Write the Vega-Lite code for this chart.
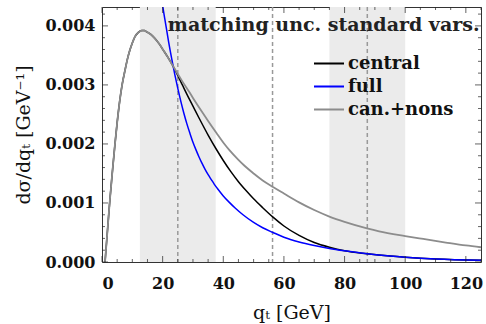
{
  "$schema": "https://vega.github.io/schema/vega-lite/v6.json",
  "width": 379,
  "height": 255,
  "autosize": {"type": "none"},
  "padding": {"left": 102, "top": 7, "right": 5, "bottom": 62},
  "background": "white",
  "config": {
    "view": {"stroke": "#333", "strokeWidth": 1},
    "font": "DejaVu Serif"
  },
  "title": {
    "text": "matching unc. standard vars.",
    "anchor": "end",
    "offset": -29,
    "dx": -3,
    "fontSize": 19,
    "fontWeight": "bold",
    "font": "DejaVu Serif",
    "color": "#222"
  },
  "datasets": {
    "xticks": [
      {"t": 0}, {"t": 5}, {"t": 10}, {"t": 15}, {"t": 20}, {"t": 25}, {"t": 30}, {"t": 35}, {"t": 40}, {"t": 45},
      {"t": 50}, {"t": 55}, {"t": 60}, {"t": 65}, {"t": 70}, {"t": 75}, {"t": 80}, {"t": 85}, {"t": 90}, {"t": 95},
      {"t": 100}, {"t": 105}, {"t": 110}, {"t": 115}, {"t": 120}, {"t": 125}
    ],
    "yticks": [
      {"t": 0}, {"t": 0.0002}, {"t": 0.0004}, {"t": 0.0006}, {"t": 0.0008}, {"t": 0.001}, {"t": 0.0012}, {"t": 0.0014},
      {"t": 0.0016}, {"t": 0.0018}, {"t": 0.002}, {"t": 0.0022}, {"t": 0.0024}, {"t": 0.0026}, {"t": 0.0028}, {"t": 0.003},
      {"t": 0.0032}, {"t": 0.0034}, {"t": 0.0036}, {"t": 0.0038}, {"t": 0.004}, {"t": 0.0042}
    ],
    "curves": [
      {"s": "central", "q": 1, "v": 0},
      {"s": "central", "q": 2, "v": 0.00066},
      {"s": "central", "q": 2.6, "v": 0.00105},
      {"s": "central", "q": 3.5, "v": 0.00157},
      {"s": "central", "q": 4.3, "v": 0.00201},
      {"s": "central", "q": 5, "v": 0.00236},
      {"s": "central", "q": 5.9, "v": 0.00275},
      {"s": "central", "q": 6.7, "v": 0.00302},
      {"s": "central", "q": 7.6, "v": 0.00325},
      {"s": "central", "q": 8.4, "v": 0.00344},
      {"s": "central", "q": 9.2, "v": 0.00359},
      {"s": "central", "q": 10, "v": 0.00371},
      {"s": "central", "q": 10.9, "v": 0.00382},
      {"s": "central", "q": 12, "v": 0.00389},
      {"s": "central", "q": 13.1, "v": 0.00392},
      {"s": "central", "q": 14, "v": 0.00392},
      {"s": "central", "q": 14.7, "v": 0.0039},
      {"s": "central", "q": 16, "v": 0.00386},
      {"s": "central", "q": 17.4, "v": 0.00379},
      {"s": "central", "q": 18.8, "v": 0.0037},
      {"s": "central", "q": 20.2, "v": 0.00359},
      {"s": "central", "q": 21.7, "v": 0.00347},
      {"s": "central", "q": 23.2, "v": 0.00334},
      {"s": "central", "q": 24.7, "v": 0.00319},
      {"s": "central", "q": 26.5, "v": 0.003},
      {"s": "central", "q": 28.9, "v": 0.00275},
      {"s": "central", "q": 30, "v": 0.00264},
      {"s": "central", "q": 32, "v": 0.00244},
      {"s": "central", "q": 35, "v": 0.00215},
      {"s": "central", "q": 37.7, "v": 0.00191},
      {"s": "central", "q": 40, "v": 0.00172},
      {"s": "central", "q": 42.5, "v": 0.00153},
      {"s": "central", "q": 45, "v": 0.00136},
      {"s": "central", "q": 47.5, "v": 0.00121},
      {"s": "central", "q": 50, "v": 0.00107},
      {"s": "central", "q": 53, "v": 0.00092},
      {"s": "central", "q": 56.4, "v": 0.00076},
      {"s": "central", "q": 60, "v": 0.00061},
      {"s": "central", "q": 65, "v": 0.00045},
      {"s": "central", "q": 70, "v": 0.00033},
      {"s": "central", "q": 75, "v": 0.00025},
      {"s": "central", "q": 80, "v": 0.00019},
      {"s": "central", "q": 87.4, "v": 0.00014},
      {"s": "central", "q": 95, "v": 0.0001},
      {"s": "central", "q": 100, "v": 0.00008},
      {"s": "central", "q": 110, "v": 0.00005},
      {"s": "central", "q": 125, "v": 0.00003},

      {"s": "full", "q": 18, "v": 0.0053},
      {"s": "full", "q": 19, "v": 0.0048},
      {"s": "full", "q": 20, "v": 0.00435},
      {"s": "full", "q": 21, "v": 0.00403},
      {"s": "full", "q": 22, "v": 0.00372},
      {"s": "full", "q": 23, "v": 0.00344},
      {"s": "full", "q": 24, "v": 0.00318},
      {"s": "full", "q": 25, "v": 0.00294},
      {"s": "full", "q": 26, "v": 0.00272},
      {"s": "full", "q": 27, "v": 0.00252},
      {"s": "full", "q": 28, "v": 0.00234},
      {"s": "full", "q": 29, "v": 0.00218},
      {"s": "full", "q": 30, "v": 0.00203},
      {"s": "full", "q": 31, "v": 0.0019},
      {"s": "full", "q": 32, "v": 0.00178},
      {"s": "full", "q": 33, "v": 0.00167},
      {"s": "full", "q": 34, "v": 0.00157},
      {"s": "full", "q": 35, "v": 0.00148},
      {"s": "full", "q": 36, "v": 0.0014},
      {"s": "full", "q": 37, "v": 0.00132},
      {"s": "full", "q": 38, "v": 0.00125},
      {"s": "full", "q": 40, "v": 0.00112},
      {"s": "full", "q": 42, "v": 0.00101},
      {"s": "full", "q": 44, "v": 0.00091},
      {"s": "full", "q": 46.5, "v": 0.0008},
      {"s": "full", "q": 50, "v": 0.00067},
      {"s": "full", "q": 53, "v": 0.00058},
      {"s": "full", "q": 56.4, "v": 0.0005},
      {"s": "full", "q": 60, "v": 0.00042},
      {"s": "full", "q": 65, "v": 0.00034},
      {"s": "full", "q": 70, "v": 0.00028},
      {"s": "full", "q": 75, "v": 0.00023},
      {"s": "full", "q": 80, "v": 0.00019},
      {"s": "full", "q": 87.4, "v": 0.00014},
      {"s": "full", "q": 95, "v": 0.0001},
      {"s": "full", "q": 100, "v": 0.00008},
      {"s": "full", "q": 110, "v": 0.00005},
      {"s": "full", "q": 125, "v": 0.00003},

      {"s": "can.+nons", "q": 1, "v": 0},
      {"s": "can.+nons", "q": 2, "v": 0.00066},
      {"s": "can.+nons", "q": 2.6, "v": 0.00105},
      {"s": "can.+nons", "q": 3.5, "v": 0.00157},
      {"s": "can.+nons", "q": 4.3, "v": 0.00201},
      {"s": "can.+nons", "q": 5, "v": 0.00236},
      {"s": "can.+nons", "q": 5.9, "v": 0.00275},
      {"s": "can.+nons", "q": 6.7, "v": 0.00302},
      {"s": "can.+nons", "q": 7.6, "v": 0.00325},
      {"s": "can.+nons", "q": 8.4, "v": 0.00344},
      {"s": "can.+nons", "q": 9.2, "v": 0.00359},
      {"s": "can.+nons", "q": 10, "v": 0.00371},
      {"s": "can.+nons", "q": 10.9, "v": 0.00382},
      {"s": "can.+nons", "q": 12, "v": 0.00389},
      {"s": "can.+nons", "q": 13.1, "v": 0.00392},
      {"s": "can.+nons", "q": 14, "v": 0.00392},
      {"s": "can.+nons", "q": 14.7, "v": 0.0039},
      {"s": "can.+nons", "q": 16, "v": 0.00386},
      {"s": "can.+nons", "q": 17.4, "v": 0.00379},
      {"s": "can.+nons", "q": 18.8, "v": 0.0037},
      {"s": "can.+nons", "q": 20.2, "v": 0.00359},
      {"s": "can.+nons", "q": 21.7, "v": 0.00347},
      {"s": "can.+nons", "q": 23.2, "v": 0.00334},
      {"s": "can.+nons", "q": 24.7, "v": 0.00321},
      {"s": "can.+nons", "q": 26.5, "v": 0.00306},
      {"s": "can.+nons", "q": 28.9, "v": 0.00287},
      {"s": "can.+nons", "q": 30, "v": 0.00278},
      {"s": "can.+nons", "q": 33.3, "v": 0.00252},
      {"s": "can.+nons", "q": 35, "v": 0.00239},
      {"s": "can.+nons", "q": 37.7, "v": 0.00219},
      {"s": "can.+nons", "q": 40.5, "v": 0.00199},
      {"s": "can.+nons", "q": 42.1, "v": 0.00189},
      {"s": "can.+nons", "q": 45, "v": 0.00173},
      {"s": "can.+nons", "q": 47, "v": 0.00163},
      {"s": "can.+nons", "q": 50, "v": 0.0015},
      {"s": "can.+nons", "q": 53, "v": 0.00138},
      {"s": "can.+nons", "q": 56.4, "v": 0.00127},
      {"s": "can.+nons", "q": 60, "v": 0.00116},
      {"s": "can.+nons", "q": 65, "v": 0.00101},
      {"s": "can.+nons", "q": 70, "v": 0.00088},
      {"s": "can.+nons", "q": 75, "v": 0.00077},
      {"s": "can.+nons", "q": 80, "v": 0.00068},
      {"s": "can.+nons", "q": 87.4, "v": 0.00057},
      {"s": "can.+nons", "q": 91.4, "v": 0.00052},
      {"s": "can.+nons", "q": 100, "v": 0.00044},
      {"s": "can.+nons", "q": 106, "v": 0.00039},
      {"s": "can.+nons", "q": 113.4, "v": 0.00033},
      {"s": "can.+nons", "q": 120, "v": 0.00028},
      {"s": "can.+nons", "q": 125, "v": 0.00025}
    ]
  },
  "layer": [
    {
      "data": {"values": [{"a": 12.5, "b": 37.5}, {"a": 75, "b": 100}]},
      "mark": {"type": "rect", "color": "#ebebeb"},
      "encoding": {
        "x": {
          "field": "a",
          "type": "quantitative",
          "scale": {"domain": [0, 125], "nice": false, "zero": false},
          "axis": {
            "orient": "bottom",
            "values": [0, 20, 40, 60, 80, 100, 120],
            "ticks": false,
            "domain": false,
            "grid": false,
            "labelPadding": 13,
            "labelFont": "DejaVu Serif",
            "labelFontWeight": "bold",
            "labelFontSize": 16,
            "labelColor": "#111",
            "title": "qₜ [GeV]",
            "titleFont": "DejaVu Serif",
            "titleFontWeight": "normal",
            "titleFontSize": 19,
            "titleColor": "#111",
            "titlePadding": 12
          }
        },
        "x2": {"field": "b"}
      }
    },
    {
      "data": {"values": [{"x": 25}, {"x": 56.25}, {"x": 87.5}]},
      "mark": {"type": "rule", "color": "#999999", "strokeDash": [4, 3], "strokeWidth": 1.5},
      "encoding": {
        "x": {"field": "x", "type": "quantitative"}
      }
    },
    {
      "data": {"name": "curves"},
      "transform": [{"filter": "datum.s !== 'can.+nons'"}],
      "mark": {"type": "line", "clip": true, "strokeWidth": 1.5, "interpolate": "monotone"},
      "encoding": {
        "x": {"field": "q", "type": "quantitative"},
        "y": {
          "field": "v",
          "type": "quantitative",
          "scale": {"domain": [0, 0.00432], "nice": false},
          "axis": {
            "orient": "left",
            "values": [0, 0.001, 0.002, 0.003, 0.004],
            "format": ".3f",
            "ticks": false,
            "domain": false,
            "grid": false,
            "labelPadding": 7,
            "labelFont": "DejaVu Serif",
            "labelFontWeight": "bold",
            "labelFontSize": 16,
            "labelColor": "#111",
            "title": "dσ/dqₜ [GeV⁻¹]",
            "titleFont": "DejaVu Serif",
            "titleFontWeight": "normal",
            "titleFontSize": 19,
            "titleColor": "#111",
            "titlePadding": 11
          }
        },
        "color": {
          "field": "s",
          "type": "nominal",
          "scale": {"domain": ["central", "full", "can.+nons"], "range": ["#000000", "#0000ff", "#8c8c8c"]},
          "legend": {
            "orient": "none",
            "legendX": 211,
            "legendY": 45,
            "title": null,
            "padding": 0,
            "symbolType": "stroke",
            "symbolSize": 900,
            "symbolStrokeWidth": 2,
            "clipHeight": 23,
            "rowPadding": 0,
            "labelOffset": 3,
            "labelFont": "DejaVu Serif",
            "labelFontWeight": "bold",
            "labelFontSize": 18,
            "labelColor": "#111"
          }
        }
      }
    },
    {
      "data": {"name": "curves"},
      "transform": [{"filter": "datum.s === 'can.+nons'"}],
      "mark": {"type": "line", "clip": true, "strokeWidth": 1.8, "interpolate": "monotone"},
      "encoding": {
        "x": {"field": "q", "type": "quantitative"},
        "y": {"field": "v", "type": "quantitative"},
        "color": {"field": "s", "type": "nominal"}
      }
    },
    {
      "data": {"name": "xticks"},
      "transform": [{"filter": "datum.t % 20 === 0"}],
      "mark": {"type": "tick", "orient": "vertical", "color": "#222", "thickness": 1, "size": 6, "yOffset": -3},
      "encoding": {
        "x": {"field": "t", "type": "quantitative"},
        "y": {"datum": 0, "type": "quantitative"}
      }
    },
    {
      "data": {"name": "xticks"},
      "transform": [{"filter": "datum.t % 20 !== 0"}],
      "mark": {"type": "tick", "orient": "vertical", "color": "#222", "thickness": 1, "size": 3, "yOffset": -1.5},
      "encoding": {
        "x": {"field": "t", "type": "quantitative"},
        "y": {"datum": 0, "type": "quantitative"}
      }
    },
    {
      "data": {"name": "xticks"},
      "transform": [{"filter": "datum.t % 20 === 0"}],
      "mark": {"type": "tick", "orient": "vertical", "color": "#222", "thickness": 1, "size": 6, "yOffset": 3},
      "encoding": {
        "x": {"field": "t", "type": "quantitative"},
        "y": {"datum": 0.00432, "type": "quantitative"}
      }
    },
    {
      "data": {"name": "xticks"},
      "transform": [{"filter": "datum.t % 20 !== 0"}],
      "mark": {"type": "tick", "orient": "vertical", "color": "#222", "thickness": 1, "size": 3, "yOffset": 1.5},
      "encoding": {
        "x": {"field": "t", "type": "quantitative"},
        "y": {"datum": 0.00432, "type": "quantitative"}
      }
    },
    {
      "data": {"name": "yticks"},
      "transform": [{"filter": "round(datum.t*10000) % 10 === 0"}],
      "mark": {"type": "tick", "orient": "horizontal", "color": "#222", "thickness": 1, "size": 6, "xOffset": 3},
      "encoding": {
        "y": {"field": "t", "type": "quantitative"},
        "x": {"datum": 0, "type": "quantitative"}
      }
    },
    {
      "data": {"name": "yticks"},
      "transform": [{"filter": "round(datum.t*10000) % 10 !== 0"}],
      "mark": {"type": "tick", "orient": "horizontal", "color": "#222", "thickness": 1, "size": 3, "xOffset": 1.5},
      "encoding": {
        "y": {"field": "t", "type": "quantitative"},
        "x": {"datum": 0, "type": "quantitative"}
      }
    },
    {
      "data": {"name": "yticks"},
      "transform": [{"filter": "round(datum.t*10000) % 10 === 0"}],
      "mark": {"type": "tick", "orient": "horizontal", "color": "#222", "thickness": 1, "size": 6, "xOffset": -3},
      "encoding": {
        "y": {"field": "t", "type": "quantitative"},
        "x": {"datum": 125, "type": "quantitative"}
      }
    },
    {
      "data": {"name": "yticks"},
      "transform": [{"filter": "round(datum.t*10000) % 10 !== 0"}],
      "mark": {"type": "tick", "orient": "horizontal", "color": "#222", "thickness": 1, "size": 3, "xOffset": -1.5},
      "encoding": {
        "y": {"field": "t", "type": "quantitative"},
        "x": {"datum": 125, "type": "quantitative"}
      }
    }
  ]
}
